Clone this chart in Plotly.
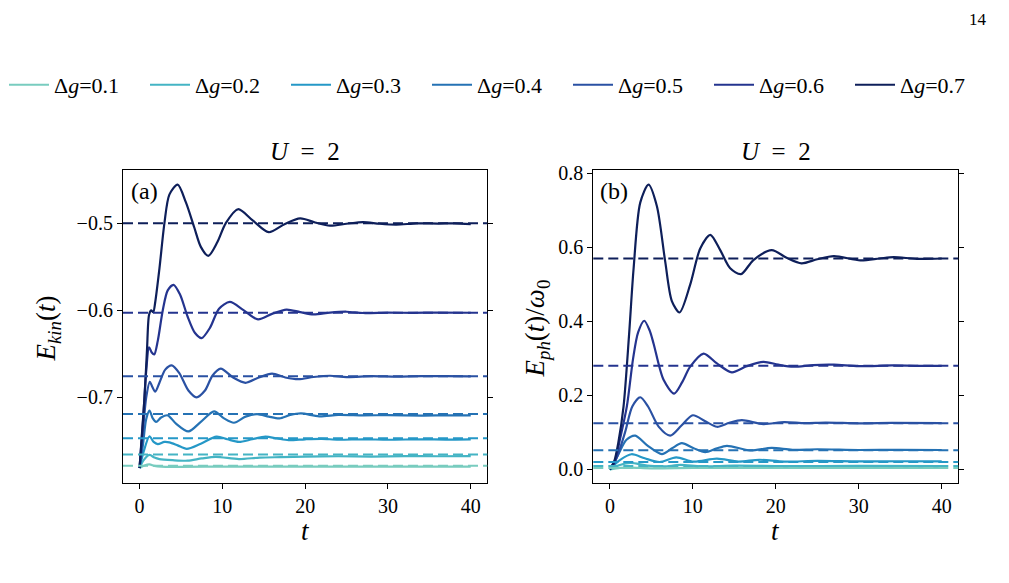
import plotly.graph_objects as go

# ---------------- data ----------------
dg_labels = ["0.1", "0.2", "0.3", "0.4", "0.5", "0.6", "0.7"]
colors = ["#78ccbf", "#44b4c4", "#2598c7", "#2572b4", "#2a51a3", "#24348f", "#0e1f5a"]

# panel (a): kinetic energy
ekin_t_01 = [0, 0.6, 1.2, 1.8, 2.6, 5, 10, 20, 30, 40]
ekin_v_01 = [-0.781, -0.778, -0.7768, -0.7785, -0.7794, -0.7796, -0.7794, -0.7794, -0.7794, -0.7794]
ekin_t_02 = [0, 0.5, 1.2, 1.8, 2.4, 4, 5.8, 7.5, 9.2, 12, 14.5, 17, 20, 24, 28, 32, 36, 40]
ekin_v_02 = [-0.781, -0.772, -0.766, -0.769, -0.7707, -0.772, -0.7726, -0.770, -0.7681, -0.7707,
             -0.769, -0.7685, -0.768, -0.7675, -0.7678, -0.7673, -0.7675, -0.7673]
ekin_t_03 = [0, 0.5, 1.2, 1.7, 2.2, 3.0, 3.6, 4.6, 5.7, 7.4, 9.3, 10.6, 12.0, 13.6, 15.2, 16.6,
             18.0, 20, 22, 24, 27, 30, 34, 37, 40]
ekin_v_03 = [-0.781, -0.762, -0.7445, -0.751, -0.7535, -0.751, -0.7515, -0.755, -0.7590, -0.753,
             -0.7450, -0.748, -0.751, -0.748, -0.7450, -0.747, -0.749, -0.748, -0.7475, -0.7485,
             -0.748, -0.7485, -0.748, -0.7483, -0.748]
ekin_t_04 = [0, 0.4, 0.8, 1.2, 1.6, 2.0, 2.6, 3.4, 4.4, 5.9, 7.4, 9.0, 10.2, 11.4, 12.8, 14.2,
             15.6, 16.9, 18.2, 19.5, 21.7, 24, 27, 30, 34, 37, 40]
ekin_v_04 = [-0.781, -0.755, -0.725, -0.715, -0.724, -0.728, -0.723, -0.7205, -0.730, -0.739,
             -0.728, -0.716, -0.724, -0.729, -0.722, -0.719, -0.722, -0.724, -0.720, -0.7183,
             -0.7216, -0.720, -0.7205, -0.7203, -0.7208, -0.7205, -0.7205]
ekin_t_05 = [0, 0.4, 0.8, 1.24, 1.55, 1.89, 2.4, 3.1, 3.9, 4.8, 5.9, 6.87, 7.9, 8.8, 9.8, 11.3,
             12.8, 14.4, 16.0, 17.6, 19.2, 21, 23, 25, 28, 31, 34, 37, 40]
ekin_v_05 = [-0.781, -0.74, -0.70, -0.682, -0.688, -0.6933, -0.683, -0.668, -0.6631, -0.672,
             -0.692, -0.6998, -0.692, -0.675, -0.6669, -0.677, -0.6831, -0.677, -0.6726, -0.677,
             -0.679, -0.6765, -0.675, -0.6765, -0.6755, -0.676, -0.6755, -0.6755, -0.6757]
ekin_t_06 = [0, 0.4, 0.8, 1.15, 1.45, 1.77, 2.2, 2.8, 3.4, 4.1, 4.9, 5.8, 6.7, 7.5, 8.5, 9.6,
             10.9, 12.6, 14.3, 16.0, 17.75, 19.4, 21.0, 23, 25, 27, 30, 33, 36, 40]
ekin_v_06 = [-0.781, -0.73, -0.67, -0.6423, -0.648, -0.6506, -0.635, -0.600, -0.577, -0.5706,
             -0.582, -0.607, -0.626, -0.6318, -0.620, -0.598, -0.5903, -0.600, -0.6103, -0.604,
             -0.599, -0.602, -0.6046, -0.6025, -0.6015, -0.603, -0.6025, -0.6028, -0.6025, -0.6027]
ekin_t_07 = [0, 0.3, 0.6, 0.9, 1.15, 1.4, 1.65, 1.9, 2.4, 3.0, 3.6, 4.6, 5.6, 6.6, 7.4, 8.3,
             9.4, 10.4, 11.9, 13.7, 15.6, 17.5, 19.4, 21.2, 23.0, 25.0, 27.0, 29.0, 31.0, 33.5,
             36.0, 38.0, 40.0]
ekin_v_07 = [-0.781, -0.74, -0.70, -0.645, -0.605, -0.600, -0.602, -0.590, -0.552, -0.500,
             -0.467, -0.4555, -0.476, -0.5045, -0.527, -0.5374, -0.5215, -0.500, -0.4838, -0.497,
             -0.5102, -0.501, -0.4943, -0.499, -0.5027, -0.5005, -0.4985, -0.5005, -0.5015,
             -0.500, -0.5003, -0.500, -0.5008]
ekin_levels = [-0.7783, -0.7655, -0.7469, -0.719, -0.6755, -0.6027, -0.500]

# panel (b): phonon energy
eph_t_01 = [0, 1.2, 2.5, 5, 10, 20, 30, 40]
eph_v_01 = [0, 0.004, 0.005, 0.003, 0.004, 0.004, 0.004, 0.004]
eph_t_02 = [0, 1.2, 2.5, 4.5, 6.5, 8.5, 11, 15, 20, 30, 40]
eph_v_02 = [0, 0.012, 0.0176, 0.010, 0.008, 0.012, 0.008, 0.010, 0.009, 0.0095, 0.009]
eph_t_03 = [0, 1.2, 2.6, 4.2, 6.0, 8.0, 10.1, 12.9, 15.5, 18, 21, 25, 30, 35, 40]
eph_v_03 = [0, 0.025, 0.041, 0.030, 0.020, 0.0327, 0.021, 0.029, 0.021, 0.026, 0.021, 0.023,
            0.0215, 0.022, 0.0215]
eph_t_04 = [0, 1.0, 2.0, 3.06, 4.5, 6.27, 7.5, 8.67, 10.1, 11.5, 12.8, 14.1, 16.9, 19.5, 22, 25,
            30, 35, 40]
eph_v_04 = [0, 0.04, 0.08, 0.0913, 0.065, 0.0415, 0.057, 0.0708, 0.057, 0.0468, 0.056, 0.0638,
            0.0513, 0.058, 0.053, 0.0545, 0.0525, 0.053, 0.0525]
eph_t_05 = [0, 0.8, 1.85, 2.7, 3.66, 4.6, 5.9, 7.27, 8.6, 10.0, 11.5, 12.9, 14.4, 15.9, 18.5, 21,
            23.5, 26, 30, 34, 40]
eph_v_05 = [0, 0.03, 0.102, 0.17, 0.195, 0.17, 0.115, 0.0913, 0.118, 0.1463, 0.130, 0.1152,
            0.126, 0.133, 0.1224, 0.128, 0.125, 0.1265, 0.1245, 0.1255, 0.125]
eph_t_06 = [0, 0.6, 1.2, 2.05, 2.8, 3.4, 4.14, 4.8, 5.27, 6.47, 7.75, 8.7, 9.68, 11.29, 12.9,
            14.7, 16.5, 18.5, 20.3, 22.1, 24.5, 27, 30, 34, 37, 40]
eph_v_06 = [0, 0.02, 0.08, 0.171, 0.30, 0.37, 0.4018, 0.375, 0.3396, 0.242, 0.205, 0.235,
            0.2775, 0.313, 0.2863, 0.2624, 0.279, 0.2908, 0.283, 0.2775, 0.282, 0.283, 0.279,
            0.281, 0.280, 0.280]
eph_t_07 = [0, 0.5, 1.0, 1.65, 2.3, 2.86, 3.66, 4.66, 5.66, 6.67, 7.47, 8.4, 9.68, 10.89, 12.1,
            13.3, 14.5, 15.8, 17.3, 19.5, 21.3, 23.1, 25, 27.0, 30.2, 32.5, 34.2, 37, 40]
eph_v_07 = [0, 0.02, 0.07, 0.171, 0.36, 0.5436, 0.721, 0.7698, 0.712, 0.5614, 0.455, 0.424,
            0.4993, 0.597, 0.634, 0.5925, 0.5436, 0.5277, 0.5658, 0.5925, 0.572, 0.5569, 0.568,
            0.5765, 0.565, 0.570, 0.5737, 0.569, 0.570]
eph_levels = [0.004, 0.009, 0.020, 0.052, 0.125, 0.280, 0.570]

ekin_t = [ekin_t_01, ekin_t_02, ekin_t_03, ekin_t_04, ekin_t_05, ekin_t_06, ekin_t_07]
ekin_v = [ekin_v_01, ekin_v_02, ekin_v_03, ekin_v_04, ekin_v_05, ekin_v_06, ekin_v_07]
eph_t = [eph_t_01, eph_t_02, eph_t_03, eph_t_04, eph_t_05, eph_t_06, eph_t_07]
eph_v = [eph_v_01, eph_v_02, eph_v_03, eph_v_04, eph_v_05, eph_v_06, eph_v_07]

x_ticks = [0, 10, 20, 30, 40]
ya_ticks = [-0.7, -0.6, -0.5]
ya_ticktext = ["\u22120.7", "\u22120.6", "\u22120.5"]
yb_ticks = [0.0, 0.2, 0.4, 0.6, 0.8]

# ---------------- figure ----------------
FONT = "Liberation Serif"
fig = go.Figure()

for i, lab in enumerate(dg_labels):
    fig.add_trace(go.Scatter(
        x=ekin_t[i], y=ekin_v[i], mode="lines",
        line=dict(color=colors[i], width=2.2, shape="spline", smoothing=0.8),
        name="\u0394<i>g</i>=" + lab, legendgroup=lab, showlegend=True,
        xaxis="x", yaxis="y"))
for i, lab in enumerate(dg_labels):
    fig.add_trace(go.Scatter(
        x=eph_t[i], y=eph_v[i], mode="lines",
        line=dict(color=colors[i], width=2.2, shape="spline", smoothing=0.8),
        name="\u0394<i>g</i>=" + lab, legendgroup=lab, showlegend=False,
        xaxis="x2", yaxis="y2"))

shapes = []
for i in range(len(dg_labels)):
    shapes.append(dict(type="line", xref="x domain", yref="y", x0=0, x1=1,
                       y0=ekin_levels[i], y1=ekin_levels[i],
                       line=dict(color=colors[i], width=2, dash="10px,5px")))
    shapes.append(dict(type="line", xref="x2 domain", yref="y2", x0=0, x1=1,
                       y0=eph_levels[i], y1=eph_levels[i],
                       line=dict(color=colors[i], width=2, dash="10px,5px")))

W, H = 1009, 583
dom_y = [1 - 481.7 / H, 1 - 164.3 / H]
axis_common = dict(showline=True, linecolor="black", linewidth=1.2, ticks="outside",
                   ticklen=5, tickwidth=1, tickcolor="black", showgrid=False, zeroline=False,
                   tickfont=dict(family=FONT, size=20, color="black"))

fig.update_layout(
    width=W, height=H, margin=dict(l=0, r=0, t=0, b=0),
    paper_bgcolor="white", plot_bgcolor="white",
    font=dict(family=FONT, color="black"),
    shapes=shapes,
    xaxis=dict(domain=[123 / W, 487.3 / W], range=[-2, 42], tickvals=x_ticks,
               mirror=True, anchor="y", **axis_common),
    yaxis=dict(domain=dom_y, range=[-0.7983, -0.4388], tickvals=ya_ticks,
               ticktext=ya_ticktext, mirror="ticks", anchor="x", **axis_common),
    xaxis2=dict(domain=[593.3 / W, 958.3 / W], range=[-2, 42], tickvals=x_ticks,
                mirror=True, anchor="y2", **axis_common),
    yaxis2=dict(domain=dom_y, range=[-0.037, 0.809], tickvals=yb_ticks, tickformat=".1f",
                mirror="ticks", anchor="x2", **axis_common),
    legend=dict(orientation="h", x=4 / W, xanchor="left", y=1 - 78 / H, yanchor="middle",
                font=dict(family=FONT, size=22, color="black"),
                entrywidth=86, entrywidthmode="pixels", bgcolor="rgba(0,0,0,0)",
                itemwidth=40),
)

ann = []
for xc in [(123 + 487.3) / 2 / W, (593.3 + 958.3) / 2 / W]:
    ann.append(dict(x=xc, y=1 - 145 / H, xref="paper", yref="paper", showarrow=False,
                    text="<i>U</i>\u2002=\u20022", font=dict(family=FONT, size=25, color="black"),
                    xanchor="center", yanchor="middle"))
    ann.append(dict(x=xc, y=1 - 530 / H, xref="paper", yref="paper", showarrow=False,
                    text="<i>t</i>", font=dict(family=FONT, size=27, color="black"),
                    xanchor="center", yanchor="middle"))
ann.append(dict(x=48 / W, y=1 - 325 / H, xref="paper", yref="paper", showarrow=False,
                text="<i>E</i><sub><i>kin</i></sub>(<i>t</i>)", textangle=-90,
                font=dict(family=FONT, size=27, color="black"),
                xanchor="center", yanchor="middle"))
ann.append(dict(x=537 / W, y=1 - 325 / H, xref="paper", yref="paper", showarrow=False,
                text="<i>E</i><sub><i>ph</i></sub>(<i>t</i>)/<i>\u03c9</i><sub>0</sub>",
                textangle=-90, font=dict(family=FONT, size=27, color="black"),
                xanchor="center", yanchor="middle"))
ann.append(dict(x=129 / W, y=1 - 186 / H, xref="paper", yref="paper", showarrow=False,
                text="(a)", font=dict(family=FONT, size=24, color="black"),
                xanchor="left", yanchor="middle"))
ann.append(dict(x=598 / W, y=1 - 186 / H, xref="paper", yref="paper", showarrow=False,
                text="(b)", font=dict(family=FONT, size=24, color="black"),
                xanchor="left", yanchor="middle"))
ann.append(dict(x=989 / W, y=1 - 12 / H, xref="paper", yref="paper", showarrow=False,
                text="14", font=dict(family=FONT, size=17, color="black"),
                xanchor="right", yanchor="middle"))
fig.update_layout(annotations=ann)

fig.write_html("out.html")
